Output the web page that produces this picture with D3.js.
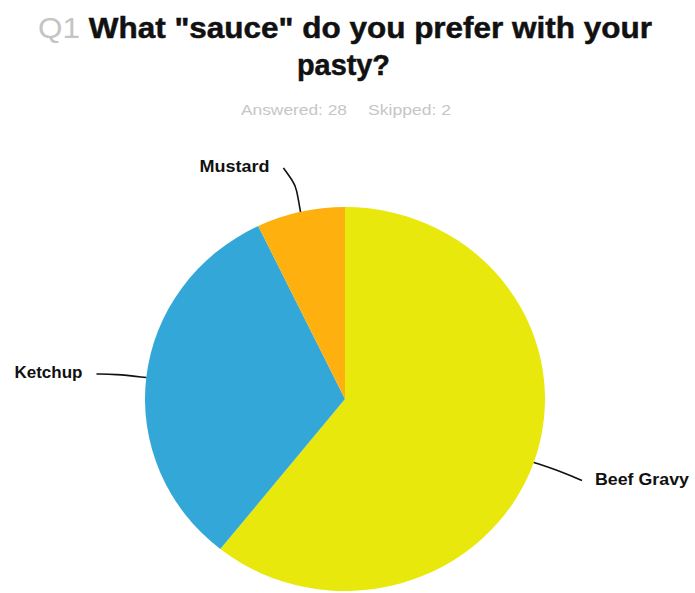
<!DOCTYPE html>
<html>
<head>
<meta charset="utf-8">
<script src="https://cdn.jsdelivr.net/npm/d3@7"></script>
<style>
  body { margin: 0; background: #fff; }
  text { font-family: "Liberation Sans", Arial, sans-serif; }
</style>
</head>
<body>
<svg id="chart" width="695" height="593"></svg>
<script>
// Data
const answers = ['Beef Gravy', 'Ketchup', 'Mustard'];
const counts = [17, 9, 2];
const sliceColors = ['#e8e80c', '#33a8d8', '#fdb00e'];
const answered = 28;
const skipped = 2;

const svg = d3.select("#chart");
// the scanned page is a bit stretched sideways, so the pie is slightly oval
const cx = 345, cy = 399, radius = 200, squash = 0.96;

// Title (two lines, condensed to match the scanned page)
const title = svg.append("text")
  .attr("x", 345).attr("y", 38)
  .attr("text-anchor", "middle")
  .attr("font-size", 30).attr("font-weight", "bold")
  .attr("textLength", 614).attr("lengthAdjust", "spacingAndGlyphs");
title.append("tspan").attr("fill", "#c4c4c4").attr("font-weight", "normal").text("Q1 ");
title.append("tspan").attr("fill", "#111").attr("stroke", "#111").attr("stroke-width", 0.5)
  .text('What "sauce" do you prefer with your');

svg.append("text")
  .attr("x", 343.5).attr("y", 75)
  .attr("text-anchor", "middle")
  .attr("font-size", 30).attr("font-weight", "bold").attr("fill", "#111")
  .attr("stroke", "#111").attr("stroke-width", 0.5)
  .attr("textLength", 93).attr("lengthAdjust", "spacingAndGlyphs")
  .text("pasty?");

// Subtitle
svg.append("text")
  .attr("x", 241).attr("y", 115)
  .attr("font-size", 14).attr("fill", "#c6c6c6")
  .attr("textLength", 106).attr("lengthAdjust", "spacingAndGlyphs")
  .text(`Answered: ${answered}`);
svg.append("text")
  .attr("x", 368).attr("y", 115)
  .attr("font-size", 14).attr("fill", "#c6c6c6")
  .attr("textLength", 83).attr("lengthAdjust", "spacingAndGlyphs")
  .text(`Skipped: ${skipped}`);

// Pie
const data = answers.map((a, i) => ({ name: a, value: counts[i], color: sliceColors[i] }));
const pie = d3.pie().sort(null).value(d => d.value);
const arc = d3.arc().innerRadius(0).outerRadius(radius);
const arcs = pie(data);

svg.append("g")
  .attr("transform", `translate(${cx},${cy}) scale(1,${squash})`)
  .selectAll("path.slice")
  .data(arcs)
  .enter().append("path")
  .attr("class", "slice")
  .attr("d", arc)
  .attr("fill", d => d.data.color);

// Leader lines and labels
const g = svg.append("g").attr("transform", `translate(${cx},${cy})`);
const line = d3.line().curve(d3.curveBasis);
const polar = (a, r) => [r * Math.sin(a), -r * Math.cos(a) * squash];
const labelWidths = { 'Beef Gravy': 94, 'Ketchup': 68, 'Mustard': 70 };
// where the leader ends, relative to the elbow point
const tails = { 'Beef Gravy': [18, 8], 'Ketchup': [-18, 0], 'Mustard': [-10, -14] };

arcs.forEach(d => {
  const name = d.data.name;
  const mid = (d.startAngle + d.endAngle) / 2;
  const p0 = polar(mid, radius);
  const p1 = polar(mid, 232);
  const right = Math.sin(mid) > 0;
  const p2 = [p1[0] + tails[name][0], p1[1] + tails[name][1]];
  const pts = name === 'Mustard' ? [p0, [p1[0] + 3, p1[1] + 6], p1, p2] : [p0, p1, p2];

  g.append("path")
    .attr("d", line(pts))
    .attr("fill", "none")
    .attr("stroke", "#111")
    .attr("stroke-width", 1.6);

  g.append("text")
    .attr("x", p2[0] + (right ? 13 : -14))
    .attr("y", p2[1] + 4)
    .attr("text-anchor", right ? "start" : "end")
    .attr("font-size", 16).attr("font-weight", "bold").attr("fill", "#111")
    .attr("textLength", labelWidths[name]).attr("lengthAdjust", "spacingAndGlyphs")
    .text(name);
});
</script>
</body>
</html>
